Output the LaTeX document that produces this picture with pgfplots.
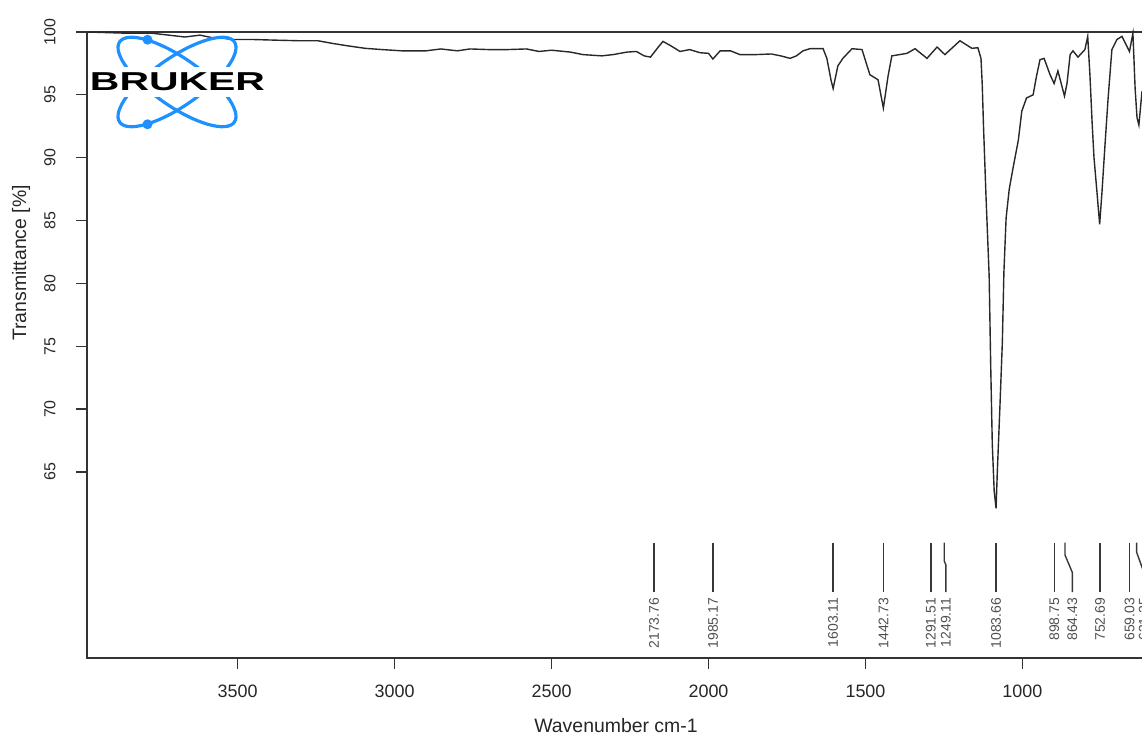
\documentclass[border=0pt]{standalone}
\usepackage{fontspec}
\setmainfont{Liberation Sans}
\usepackage{pgfplots}
\usepackage{pgfplotstable}
\pgfplotsset{compat=1.18}
\definecolor{brukerblue}{RGB}{30,144,255}
\definecolor{spec}{RGB}{40,40,40}
\definecolor{lbl}{RGB}{80,80,80}
\definecolor{pkline}{RGB}{55,55,55}

\pgfplotstableread{
w T
3980 100.0
3916 99.95
3850 99.9
3773 99.9
3720 99.75
3668 99.6
3620 99.75
3582 99.55
3545 99.5
3518 99.4
3450 99.4
3380 99.35
3300 99.3
3244 99.3
3200 99.1
3150 98.9
3094 98.7
3040 98.6
2977 98.5
2900 98.5
2853 98.65
2800 98.5
2760 98.65
2700 98.6
2640 98.6
2580 98.65
2540 98.45
2500 98.55
2440 98.4
2400 98.2
2340 98.1
2304 98.2
2260 98.4
2230 98.45
2205 98.1
2185 98.0
2160 98.8
2145 99.25
2120 98.9
2091 98.45
2060 98.6
2027 98.35
2000 98.3
1986 97.85
1963 98.5
1930 98.5
1900 98.2
1850 98.2
1800 98.25
1770 98.1
1740 97.9
1720 98.1
1699 98.5
1677 98.67
1635 98.67
1623 97.9
1610 96.2
1603 95.5
1588 97.3
1572 97.9
1543 98.67
1511 98.6
1486 96.6
1460 96.2
1443 93.95
1428 96.5
1416 98.1
1368 98.3
1342 98.67
1304 97.9
1272 98.8
1247 98.2
1199 99.3
1161 98.7
1142 98.75
1132 97.9
1128 95.8
1124 92.5
1116 86.9
1106 80.6
1101 73.4
1096 67.2
1090 63.5
1084 62.1
1080 65.0
1072 70.0
1064 75.3
1059 80.9
1052 85.2
1042 87.5
1029 89.3
1013 91.4
1002 93.7
987 94.75
966 95.0
955 96.5
944 97.8
931 97.9
912 96.6
899 95.9
887 96.9
866 94.9
858 95.9
848 98.2
839 98.5
823 98.0
801 98.6
792 99.65
785 96.6
778 92.8
772 90.0
762 87.1
754 84.7
747 87.1
737 91.0
727 94.75
715 98.6
699 99.4
683 99.65
667 98.85
659 98.45
648 99.9
641 95.5
635 93.2
629 92.6
619 95.3
}\spectrum

\tikzset{pk/.style={rotate=90, anchor=east, inner sep=0pt, font=\fontsize{14}{14}\selectfont, text=lbl}}

\begin{document}
\begin{tikzpicture}[x=1bp,y=1bp]
\begin{axis}[scale only axis,
  width=1058bp, height=626bp,
  x dir=reverse, xmin=609.6, xmax=3980, ymin=50.2, ymax=100,
  xtick={1000,1500,2000,2500,3000,3500},
  ytick={65,70,75,80,85,90,95,100},
  tick align=outside, major tick length=11bp,
  xtick pos=bottom, ytick pos=left,
  axis line style={black!80, line width=1.3bp},
  tick style={black!80, line width=1.2bp},
  xticklabel style={font=\fontsize{18}{18}\selectfont, text=black!85},
  yticklabel style={font=\fontsize{16}{16}\selectfont, text=black!85, rotate=90, anchor=south},
  /pgf/number format/assume math mode=true,
  /pgf/number format/1000 sep={},
  yticklabel shift=17bp,
  xticklabel shift=12bp,
  clip=false,
]
\coordinate (O) at (axis cs:3980,50.2);
\addplot[spec, line width=1.4bp] table[x=w, y=T] {\spectrum};
\draw[pkline, line width=1.4bp] (axis cs:2173.76,59.37) -- (axis cs:2173.76,55.45);
\node[pk] at (axis cs:2173.76,55.0) {2173.76};
\draw[pkline, line width=1.4bp] (axis cs:1985.17,59.37) -- (axis cs:1985.17,55.45);
\node[pk] at (axis cs:1985.17,55.0) {1985.17};
\draw[pkline, line width=1.4bp] (axis cs:1603.11,59.37) -- (axis cs:1603.11,55.45);
\node[pk] at (axis cs:1603.11,55.0) {1603.11};
\draw[pkline, line width=1.4bp] (axis cs:1442.73,59.37) -- (axis cs:1442.73,55.45);
\node[pk] at (axis cs:1442.73,55.0) {1442.73};
\draw[pkline, line width=1.4bp] (axis cs:1291.51,59.37) -- (axis cs:1291.51,55.45);
\node[pk] at (axis cs:1291.51,55.0) {1291.51};
\draw[pkline, line width=1.4bp] (axis cs:1249.11,59.37) -- (axis cs:1249.11,57.9) -- (axis cs:1243.7,57.6) -- (axis cs:1243.7,55.45);
\node[pk] at (axis cs:1243.7,55.0) {1249.11};
\draw[pkline, line width=1.4bp] (axis cs:1083.66,59.37) -- (axis cs:1083.66,55.45);
\node[pk] at (axis cs:1083.66,55.0) {1083.66};
\draw[pkline, line width=1.4bp] (axis cs:898.75,59.37) -- (axis cs:898.75,55.45);
\node[pk] at (axis cs:898.75,55.0) {898.75};
\draw[pkline, line width=1.4bp] (axis cs:864.43,59.37) -- (axis cs:864.43,58.4) -- (axis cs:841,57.0) -- (axis cs:841,55.45);
\node[pk] at (axis cs:841,55.0) {864.43};
\draw[pkline, line width=1.4bp] (axis cs:752.69,59.37) -- (axis cs:752.69,55.45);
\node[pk] at (axis cs:752.69,55.0) {752.69};
\draw[pkline, line width=1.4bp] (axis cs:659.03,59.37) -- (axis cs:659.03,55.45);
\node[pk] at (axis cs:659.03,55.0) {659.03};
\draw[pkline, line width=1.4bp] (axis cs:636,59.37) -- (axis cs:636,58.6) -- (axis cs:613,57.0) -- (axis cs:613,55.45);
\node[pk] at (axis cs:613,55.0) {631.25};
\end{axis}
\begin{scope}[shift={(O)}, shift={(-87,-77)}]
\begin{scope}[shift={(177,653)}]
 \draw[brukerblue, line width=3.2bp, rotate=35] (0,0) ellipse [x radius=70, y radius=24];
 \draw[brukerblue, line width=3.2bp, rotate=-35] (0,0) ellipse [x radius=70, y radius=24];
 \fill[brukerblue] (-29.5,42.3) circle (5);
 \fill[brukerblue] (-29.5,-42.3) circle (5);
 \node[fill=white, inner xsep=0pt, inner ysep=6bp, font=\fontsize{26}{26}\selectfont\bfseries, xscale=1.58] at (0.5,0) {BRUKER};
\end{scope}
\node[rotate=90, font=\fontsize{19.5}{19.5}\selectfont, text=black!85] at (21,472) {Transmittance [\%]};
\node[font=\fontsize{19.5}{19.5}\selectfont, text=black!85] at (616,9.5) {Wavenumber cm-1};
\pgfresetboundingbox
\path[use as bounding box] (0,0) rectangle (1142,735);
\end{scope}
\end{tikzpicture}
\end{document}
